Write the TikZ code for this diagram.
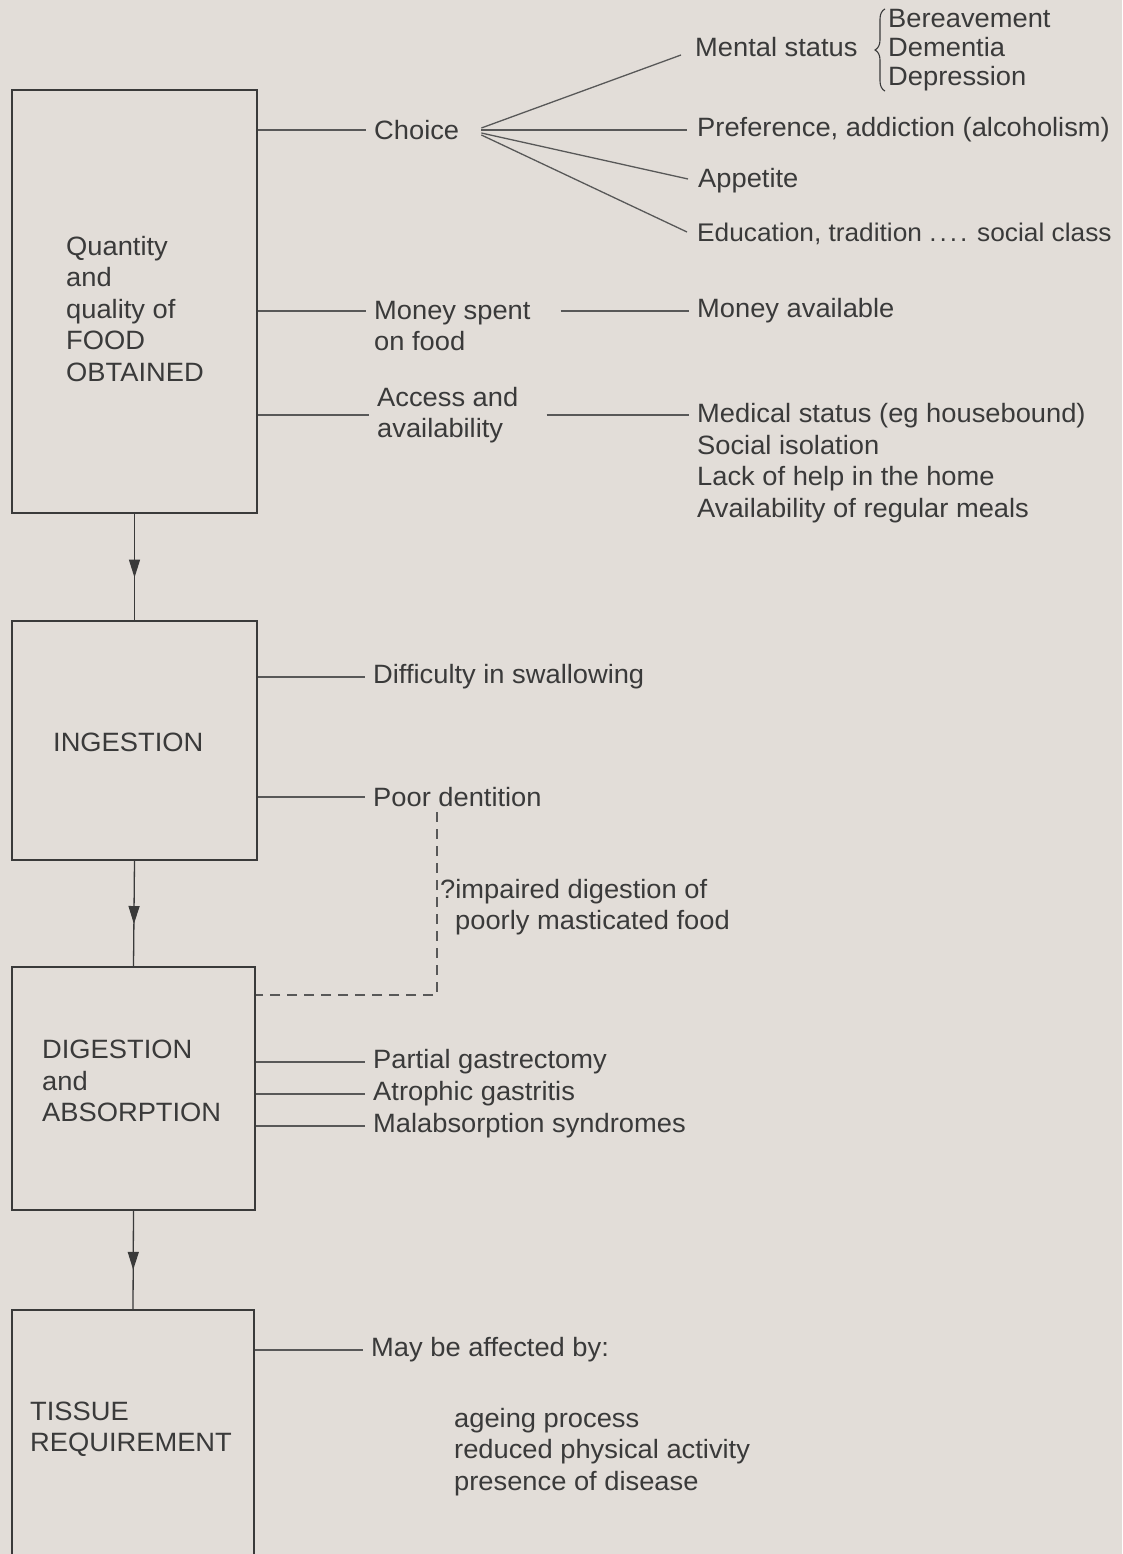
\documentclass[tikz,border=0pt]{standalone}
\usepackage{fontspec}
\setmainfont[FakeStretch=1.03]{Liberation Sans}
\usetikzlibrary{arrows.meta,decorations.pathreplacing,decorations.markings}
\definecolor{bg}{RGB}{226,221,216}
\definecolor{ink}{RGB}{58,58,58}
\definecolor{lin}{RGB}{88,88,88}
\begin{document}
\begin{tikzpicture}[x=1pt,y=-1pt,
  box/.style={draw=ink, line width=1.8pt, inner sep=0pt},
  txt/.style={font=\fontsize{26.5}{31.5}\selectfont, text=ink, align=left, inner sep=0pt, anchor=west},
  lab/.style={txt, inner xsep=8pt},
  conn/.style={draw=lin, line width=1.3pt},
  dashline/.style={draw=lin, line width=1.2pt, dash pattern=on 10pt off 7pt},
  bracestyle/.style={draw=ink, line width=1.1pt, decorate, decoration={brace, amplitude=10pt}},
  flow/.style={draw=ink, line width=1.3pt, postaction={decorate},
    decoration={markings, mark=at position 0.6 with {\arrow[fill=ink]{Triangle[length=18pt,width=11pt]}}}}
]
\fill[bg] (0,0) rectangle (1122,1554);
\useasboundingbox (0,0) rectangle (1122,1554);
\clip (0,0) rectangle (1122,1554);

% boxes
\node[box, minimum width=245pt, minimum height=423pt] (b1) at (134.5,301.5) {};
\node[box, minimum width=245pt, minimum height=239pt] (b2) at (134.5,740.5) {};
\node[box, minimum width=243pt, minimum height=243pt] (b3) at (133.5,1088.5) {};
\node[box, minimum width=242pt, minimum height=260pt] (b4) at (133,1440) {};

% box texts
\node[txt] (t1) at (66,309) {Quantity\\and\\quality of\\FOOD\\OBTAINED};
\node[txt] (t2) at (53,742) {INGESTION};
\node[txt] (t3) at (42,1081) {DIGESTION\\and\\ABSORPTION};
\node[txt] (t4) at (30,1429) {TISSUE\\REQUIREMENT};

% flow arrows
\draw[flow] (b1.south) -- (b2.north);
\draw[flow] (b2.south) -- (b3.north);
\draw[flow] (b3.south) -- (b4.north);

% right-hand labels, first box
\node[lab] (ch) at (366,130) {Choice};
\node[lab] (msp) at (366,326) {Money spent\\on food};
\node[lab] (acc) at (369,415) {Access and\\availability};
\node[lab] (ment) at (687,47) {Mental status};
\node[txt, font=\fontsize{26.5}{29}\selectfont] (bere) at (888,50) {Bereavement\\Dementia\\Depression};
\node[lab] (pref) at (689,130) {Preference, addiction (alcoholism)};
\node[lab] (app) at (690,181) {Appetite};
\node[lab, font=\fontsize{25.5}{31.5}\selectfont] (edu) at (689,234) {Education, tradition .\kern3pt.\kern3pt.\kern3pt. social class};
\node[lab] (mava) at (689,311) {Money available};
\node[lab] (medl) at (689,463) {Medical status (eg housebound)\\Social isolation\\Lack of help in the home\\Availability of regular meals};

% second box
\node[lab] (diff) at (365,677) {Difficulty in swallowing};
\node[lab] (poor) at (365,797) {Poor dentition};
\node[txt] (imp) at (440,907) {?impaired digestion of\\\hspace*{15pt}poorly masticated food};

% third box
\node[lab] (pg) at (365,1062) {Partial gastrectomy};
\node[lab] (ag) at (365,1094) {Atrophic gastritis};
\node[lab] (mal) at (365,1126) {Malabsorption syndromes};

% fourth box
\node[lab] (may) at (363,1350) {May be affected by:};
\node[txt] (age) at (454,1452) {ageing process\\reduced physical activity\\presence of disease};

% connectors box 1
\draw[conn] (b1.east |- ch.west) -- (ch.west);
\draw[conn] (b1.east |- mava.west) -- (msp.west |- mava.west);
\coordinate (msr) at ([xshift=22pt]msp.east);
\draw[conn] (msr |- mava.west) -- (mava.west);
\draw[conn] (b1.east |- acc.west) -- (acc.west);
\coordinate (accr) at ([xshift=20pt]acc.east);
\draw[conn] (accr) -- (medl.west |- accr);

% fan from Choice
\coordinate (fo) at ([xshift=14pt]ch.east);
\draw[conn] ([yshift=2pt]fo) -- ([xshift=-6pt,yshift=-8pt]ment.west);
\draw[conn] (fo) -- ([xshift=-2pt]pref.west);
\draw[conn] ([yshift=-3pt]fo) -- ([xshift=-2pt,yshift=2pt]app.west);
\draw[conn] ([yshift=-5pt]fo) -- ([xshift=-2pt,yshift=2pt]edu.west);

% brace
\draw[bracestyle] ([xshift=-3pt]bere.south west) -- ([xshift=-3pt]bere.north west);

% connectors box 2
\draw[conn] (b2.east |- diff.west) -- (diff.west);
\draw[conn] (b2.east |- poor.west) -- (poor.west);
\coordinate (dtop) at (437,812);
\coordinate (dcor) at (437,995);
\draw[dashline] (dtop) -- (dcor) -- (b3.east |- dcor);

% connectors box 3
\draw[conn] (b3.east |- pg.west) -- (pg.west);
\draw[conn] (b3.east |- ag.west) -- (ag.west);
\draw[conn] (b3.east |- mal.west) -- (mal.west);

% connector box 4
\draw[conn] (b4.east |- may.west) -- (may.west);
\end{tikzpicture}
\end{document}
